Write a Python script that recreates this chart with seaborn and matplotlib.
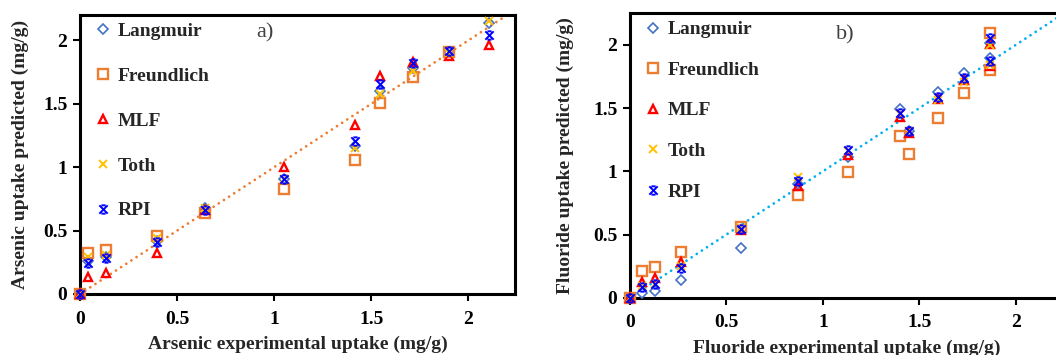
import numpy as np
import pandas as pd
import matplotlib
matplotlib.use("Agg")
import matplotlib.pyplot as plt
from matplotlib.path import Path
import seaborn as sns

sns.set_theme(style="white")
plt.rcParams['font.family'] = ['Liberation Serif', 'DejaVu Serif']
plt.rcParams['font.weight'] = 'bold'

# ---------------- data: panel a (arsenic) ----------------
as_x = [0, 0.043, 0.132, 0.395, 0.644, 1.052, 1.418, 1.546, 1.715, 1.899, 2.105]
as_langmuir = [0, 0.26, 0.29, 0.42, 0.68, 0.91, 1.17, 1.60, 1.785, 1.91, 2.137]
as_freundlich = [0, 0.32, 0.345, 0.46, 0.64, 0.83, 1.06, 1.505, 1.715, 1.91, np.nan]
as_mlf = [0, 0.135, 0.165, 0.32, 0.66, 1.00, 1.33, 1.72, 1.83, 1.88, 1.963]
as_toth = [0, 0.29, 0.31, 0.44, 0.68, 0.91, 1.15, 1.575, 1.76, 1.90, 2.15]
as_rpi = [0, 0.245, 0.28, 0.41, 0.66, 0.91, 1.205, 1.655, 1.82, 1.92, 2.045]

# ---------------- data: panel b (fluoride) ----------------
f_x = [0, 0.06, 0.13, 0.264, 0.574, 0.87, 1.132, 1.40, 1.447, 1.599, 1.732, 1.867, 1.867]
f_langmuir = [0, 0.04, 0.055, 0.14, 0.393, 0.90, 1.116, 1.49, 1.32, 1.63, 1.776, 2.013, 1.894]
f_freundlich = [0, 0.214, 0.245, 0.359, 0.562, 0.81, 0.997, 1.28, 1.14, 1.425, 1.62, 2.098, 1.80]
f_mlf = [0, 0.127, 0.153, 0.285, 0.535, 0.88, 1.13, 1.43, 1.30, 1.57, 1.72, 2.01, 1.83]
f_toth = [0, 0.09, 0.11, 0.25, 0.555, 0.957, 1.16, 1.45, 1.32, 1.565, 1.71, 2.00, 1.84]
f_rpi = [0, 0.082, 0.108, 0.237, 0.543, 0.926, 1.17, 1.46, 1.32, 1.585, 1.736, 2.053, 1.873]

# y = x reference lines
line_a_x = [0, 2.22]
line_b_x = [0, 2.25]

series_names = ["Langmuir", "Freundlich", "MLF", "Toth", "RPI"]
colors = {"Langmuir": "#4472C4", "Freundlich": "#ED7D31", "MLF": "#FF0000",
          "Toth": "#FFC000", "RPI": "#0000FF"}

# Excel-like "star" marker: X with short bars at top and bottom
star_path = Path(
    [(-1, -1), (1, 1), (-1, 1), (1, -1), (-0.5, 1), (0.5, 1), (-0.5, -1), (0.5, -1)],
    [Path.MOVETO, Path.LINETO, Path.MOVETO, Path.LINETO, Path.MOVETO, Path.LINETO,
     Path.MOVETO, Path.LINETO])

markers = {"Langmuir": "D", "Freundlich": "s", "MLF": "^", "Toth": "x", "RPI": star_path}
msizes = {"Langmuir": 5, "Freundlich": 7, "MLF": 6, "Toth": 6, "RPI": 6}

fig = plt.figure(figsize=(10.56, 3.55), dpi=100)
ax_a = fig.add_axes([80 / 1056, 1 - 294 / 355, 435 / 1056, 279 / 355])
ax_b = fig.add_axes([630 / 1056, 1 - 297.7 / 355, 434 / 1056, 284.4 / 355])


def draw(ax, x, ys, line_x, line_color, xlabel, ylabel, ylim, xlim, tag, tag_xy,
         labelspacing, ylabelpad):
    sns.lineplot(x=line_x, y=line_x, ax=ax, color=line_color, lw=2.0,
                 linestyle=(0, (0.01, 2.2)), dash_capstyle='round', zorder=1,
                 estimator=None, sort=False)
    for name, y in zip(series_names, ys):
        c = colors[name]
        kw = dict(marker=markers[name], markersize=msizes[name], linestyle='none',
                  markeredgecolor=c, markerfacecolor='none', clip_on=False, zorder=3)
        if name in ("Langmuir", "Freundlich", "MLF"):
            kw.update(markeredgewidth=1.7 if name != "Langmuir" else 1.2)
        else:
            kw.update(markeredgewidth=1.4, color=c)
        df = pd.DataFrame({"x": x, "y": y}).dropna()
        sns.lineplot(data=df, x="x", y="y", ax=ax, estimator=None, sort=False,
                     label=name, **kw)
    ax.set_xlim(*xlim)
    ax.set_ylim(*ylim)
    ax.set_xticks([0, 0.5, 1, 1.5, 2])
    ax.set_xticklabels(["0", "0.5", "1", "1.5", "2"])
    ax.set_yticks([0, 0.5, 1, 1.5, 2])
    ax.set_yticklabels(["0", "0.5", "1", "1.5", "2"])
    ax.tick_params(axis='both', direction='out', length=5, width=1.5,
                   labelsize=14, colors='black', bottom=True, left=True)
    ax.tick_params(axis='x', pad=7)
    ax.tick_params(axis='y', pad=4)
    for lab in ax.get_xticklabels() + ax.get_yticklabels():
        lab.set_fontweight('bold')
    for s in ax.spines.values():
        s.set_color('black')
        s.set_linewidth(2.2)
    ax.set_xlabel(xlabel, fontsize=14, fontweight='bold', labelpad=6)
    ax.set_ylabel(ylabel, fontsize=14, fontweight='bold', labelpad=ylabelpad)
    ax.text(tag_xy[0], tag_xy[1], tag, transform=ax.transAxes, fontsize=16,
            fontweight='normal', color='#404040', ha='center', va='center')
    ax.legend(loc='upper left', frameon=False, labelspacing=labelspacing,
              handletextpad=0.15, handlelength=1.2, borderaxespad=0.2,
              prop={'size': 14, 'weight': 'bold'}, bbox_to_anchor=(0.0, 1.015))
    ax.grid(False)


draw(ax_a, as_x, [as_langmuir, as_freundlich, as_mlf, as_toth, as_rpi],
     line_a_x, "#ED7D31", "Arsenic experimental uptake (mg/g)",
     "Arsenic uptake predicted (mg/g)", (0, 2.2), (0, 2.24), "a)",
     (0.425, 0.935), 1.4, 10)
draw(ax_b, f_x, [f_langmuir, f_freundlich, f_mlf, f_toth, f_rpi],
     line_b_x, "#00B0F0", "Fluoride experimental uptake (mg/g)",
     "Fluoride uptake predicted (mg/g)", (0, 2.25), (0, 2.25), "b)",
     (0.497, 0.925), 1.18, 14)

fig.savefig("out.png", dpi=100)
